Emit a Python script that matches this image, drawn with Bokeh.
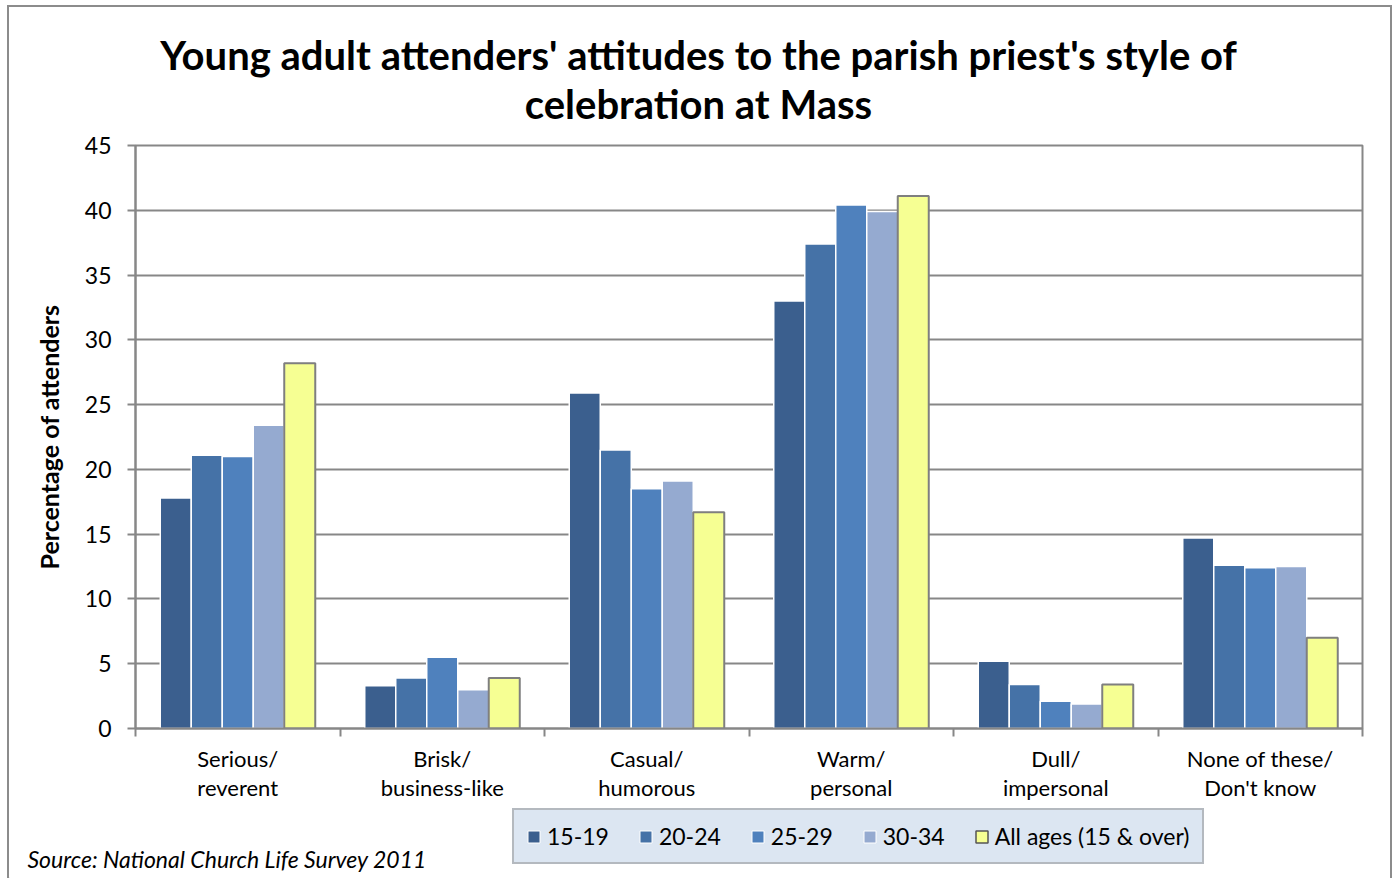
from bokeh.plotting import figure
from bokeh.layouts import column
from bokeh.models import ColumnDataSource, FixedTicker, Label, Legend, LegendItem, Range1d
from bokeh.transform import dodge
from bokeh.embed import file_html
from bokeh.resources import INLINE

# ---- data ----
categories = ["Serious/\nreverent", "Brisk/\nbusiness-like", "Casual/\nhumorous",
              "Warm/\npersonal", "Dull/\nimpersonal", "None of these/\nDon't know"]
series_names = ["15-19", "20-24", "25-29", "30-34", "All ages (15 & over)"]
v_15_19 = [17.8, 3.3, 25.9, 33.0, 5.2, 14.7]
v_20_24 = [21.1, 3.9, 21.5, 37.4, 3.4, 12.6]
v_25_29 = [21.0, 5.5, 18.5, 40.4, 2.1, 12.4]
v_30_34 = [23.4, 3.0, 19.1, 39.9, 1.9, 12.5]
v_all = [28.2, 3.9, 16.7, 41.1, 3.4, 7.0]
y_ticks = [0, 5, 10, 15, 20, 25, 30, 35, 40, 45]
title_text = "Young adult attenders' attitudes to the parish priest's style of\ncelebration at Mass"
source_text = "Source: National Church Life Survey 2011"

colors = ["#3B5F8E", "#4572A7", "#4F81BD", "#95AAD0", "#F6FF93"]
line_colors = ["white", "white", "white", "white", "#7F7F7F"]
series_vals = [v_15_19, v_20_24, v_25_29, v_30_34, v_all]

FONT = "Lato"
W = 1381
H_TOP, H_MAIN, H_BOT = 125, 676, 70
GRAY = "#878787"


def blank_fig(h):
    f = figure(width=W, height=h, output_backend="svg", toolbar_location=None,
               x_axis_type=None, y_axis_type=None, x_range=Range1d(0, W), y_range=Range1d(0, h),
               min_border=0)
    f.outline_line_color = None
    f.xgrid.visible = False
    f.ygrid.visible = False
    f.background_fill_color = "white"
    f.border_fill_color = "white"
    return f


top = blank_fig(H_TOP)
bot = blank_fig(H_BOT)
try:
    top.frame_align = False
    bot.frame_align = False
    OFF = 0
except AttributeError:
    OFF = 126

# ---- title strip ----
top.add_layout(Label(x=689 - OFF, y=102, x_units="screen", y_units="screen", text=title_text,
                     text_align="center", text_baseline="top", text_font=FONT,
                     text_font_style="bold", text_font_size="40px", text_color="black",
                     text_line_height=1.03))

# ---- main chart ----
centers = [i + 0.5 for i in range(len(categories))]
data = {"xc": centers}
for k, vals in enumerate(series_vals):
    data["s%d" % k] = vals
src = ColumnDataSource(data)

p = figure(width=W, height=H_MAIN, output_backend="svg", toolbar_location=None,
           x_range=Range1d(0, len(categories)), y_range=Range1d(0, 45),
           min_border_left=126, min_border_right=28, min_border_top=13,
           min_border_bottom=80)
p.background_fill_color = "white"
p.border_fill_color = "white"
p.outline_line_color = GRAY
p.outline_line_width = 2

bw = 0.1516
for k in range(5):
    p.vbar(x=dodge("xc", (k - 2) * bw, range=p.x_range), top="s%d" % k, width=bw,
           bottom=0, source=src, fill_color=colors[k], line_color=line_colors[k],
           line_width=1.5 if k < 4 else 2)

p.xgrid.visible = False
p.ygrid.ticker = FixedTicker(ticks=y_ticks)
p.ygrid.grid_line_color = GRAY
p.ygrid.grid_line_width = 2

p.yaxis.ticker = FixedTicker(ticks=y_ticks)
p.yaxis.axis_line_color = GRAY
p.yaxis.axis_line_width = 2
p.yaxis.major_tick_line_color = GRAY
p.yaxis.major_tick_line_width = 2
p.yaxis.major_tick_out = 8
p.yaxis.major_tick_in = 0
p.yaxis.minor_tick_line_color = None
p.yaxis.major_label_text_font = FONT
p.yaxis.major_label_text_font_size = "23px"
p.yaxis.major_label_text_color = "black"
p.yaxis.major_label_standoff = 16
p.yaxis.axis_label = "Percentage of attenders"
p.yaxis.axis_label_text_font = FONT
p.yaxis.axis_label_text_font_style = "bold"
p.yaxis.axis_label_text_font_size = "25px"
p.yaxis.axis_label_text_color = "black"
p.yaxis.axis_label_standoff = 18

p.xaxis.ticker = FixedTicker(ticks=centers, minor_ticks=list(range(len(categories) + 1)))
p.xaxis.major_label_overrides = {c: lab for c, lab in zip(centers, categories)}
p.xaxis.axis_line_color = GRAY
p.xaxis.axis_line_width = 2
p.xaxis.major_tick_line_color = None
p.xaxis.minor_tick_line_color = GRAY
p.xaxis.minor_tick_line_width = 2
p.xaxis.minor_tick_out = 8
p.xaxis.minor_tick_in = 0
p.xaxis.major_label_text_font = FONT
p.xaxis.major_label_text_font_size = "22px"
p.xaxis.major_label_text_color = "black"
p.xaxis.major_label_standoff = 8
p.xaxis.major_label_text_line_height = 1.1

# ---- bottom strip: legend + source ----
hidden = ColumnDataSource({"x": [-100.0], "top": [-100.0]})
leg_renderers = []
for k in range(5):
    r = bot.vbar(x="x", top="top", bottom=-200, width=1, source=hidden, fill_color=colors[k],
                 line_color=line_colors[k] if k < 4 else "#555555",
                 line_width=1 if k < 4 else 1.5)
    leg_renderers.append(r)

legend = Legend(items=[LegendItem(label=n, renderers=[r]) for n, r in zip(series_names, leg_renderers)],
                location=(503 - OFF, 14), orientation="horizontal",
                background_fill_color="#DCE6F2", background_fill_alpha=1,
                border_line_color="#8C8C8C", border_line_width=2,
                label_text_font=FONT, label_text_font_size="23px", label_text_color="black",
                glyph_width=15, glyph_height=15, label_standoff=6, spacing=29,
                padding=12, margin=0, label_height=25)
bot.add_layout(legend, "center")

bot.add_layout(Label(x=18 - OFF, y=20, x_units="screen", y_units="screen", text=source_text,
                     text_align="left", text_baseline="middle", text_font=FONT,
                     text_font_style="italic", text_font_size="23px", text_color="black"))

layout = column(top, p, bot, spacing=0,
                styles={"margin-left": "7px", "margin-top": "5px",
                        "border-left": "2px solid #8C8C8C", "border-top": "2px solid #8C8C8C",
                        "border-right": "2px solid #8C8C8C"})

open("out.html", "w").write(file_html(layout, INLINE))
